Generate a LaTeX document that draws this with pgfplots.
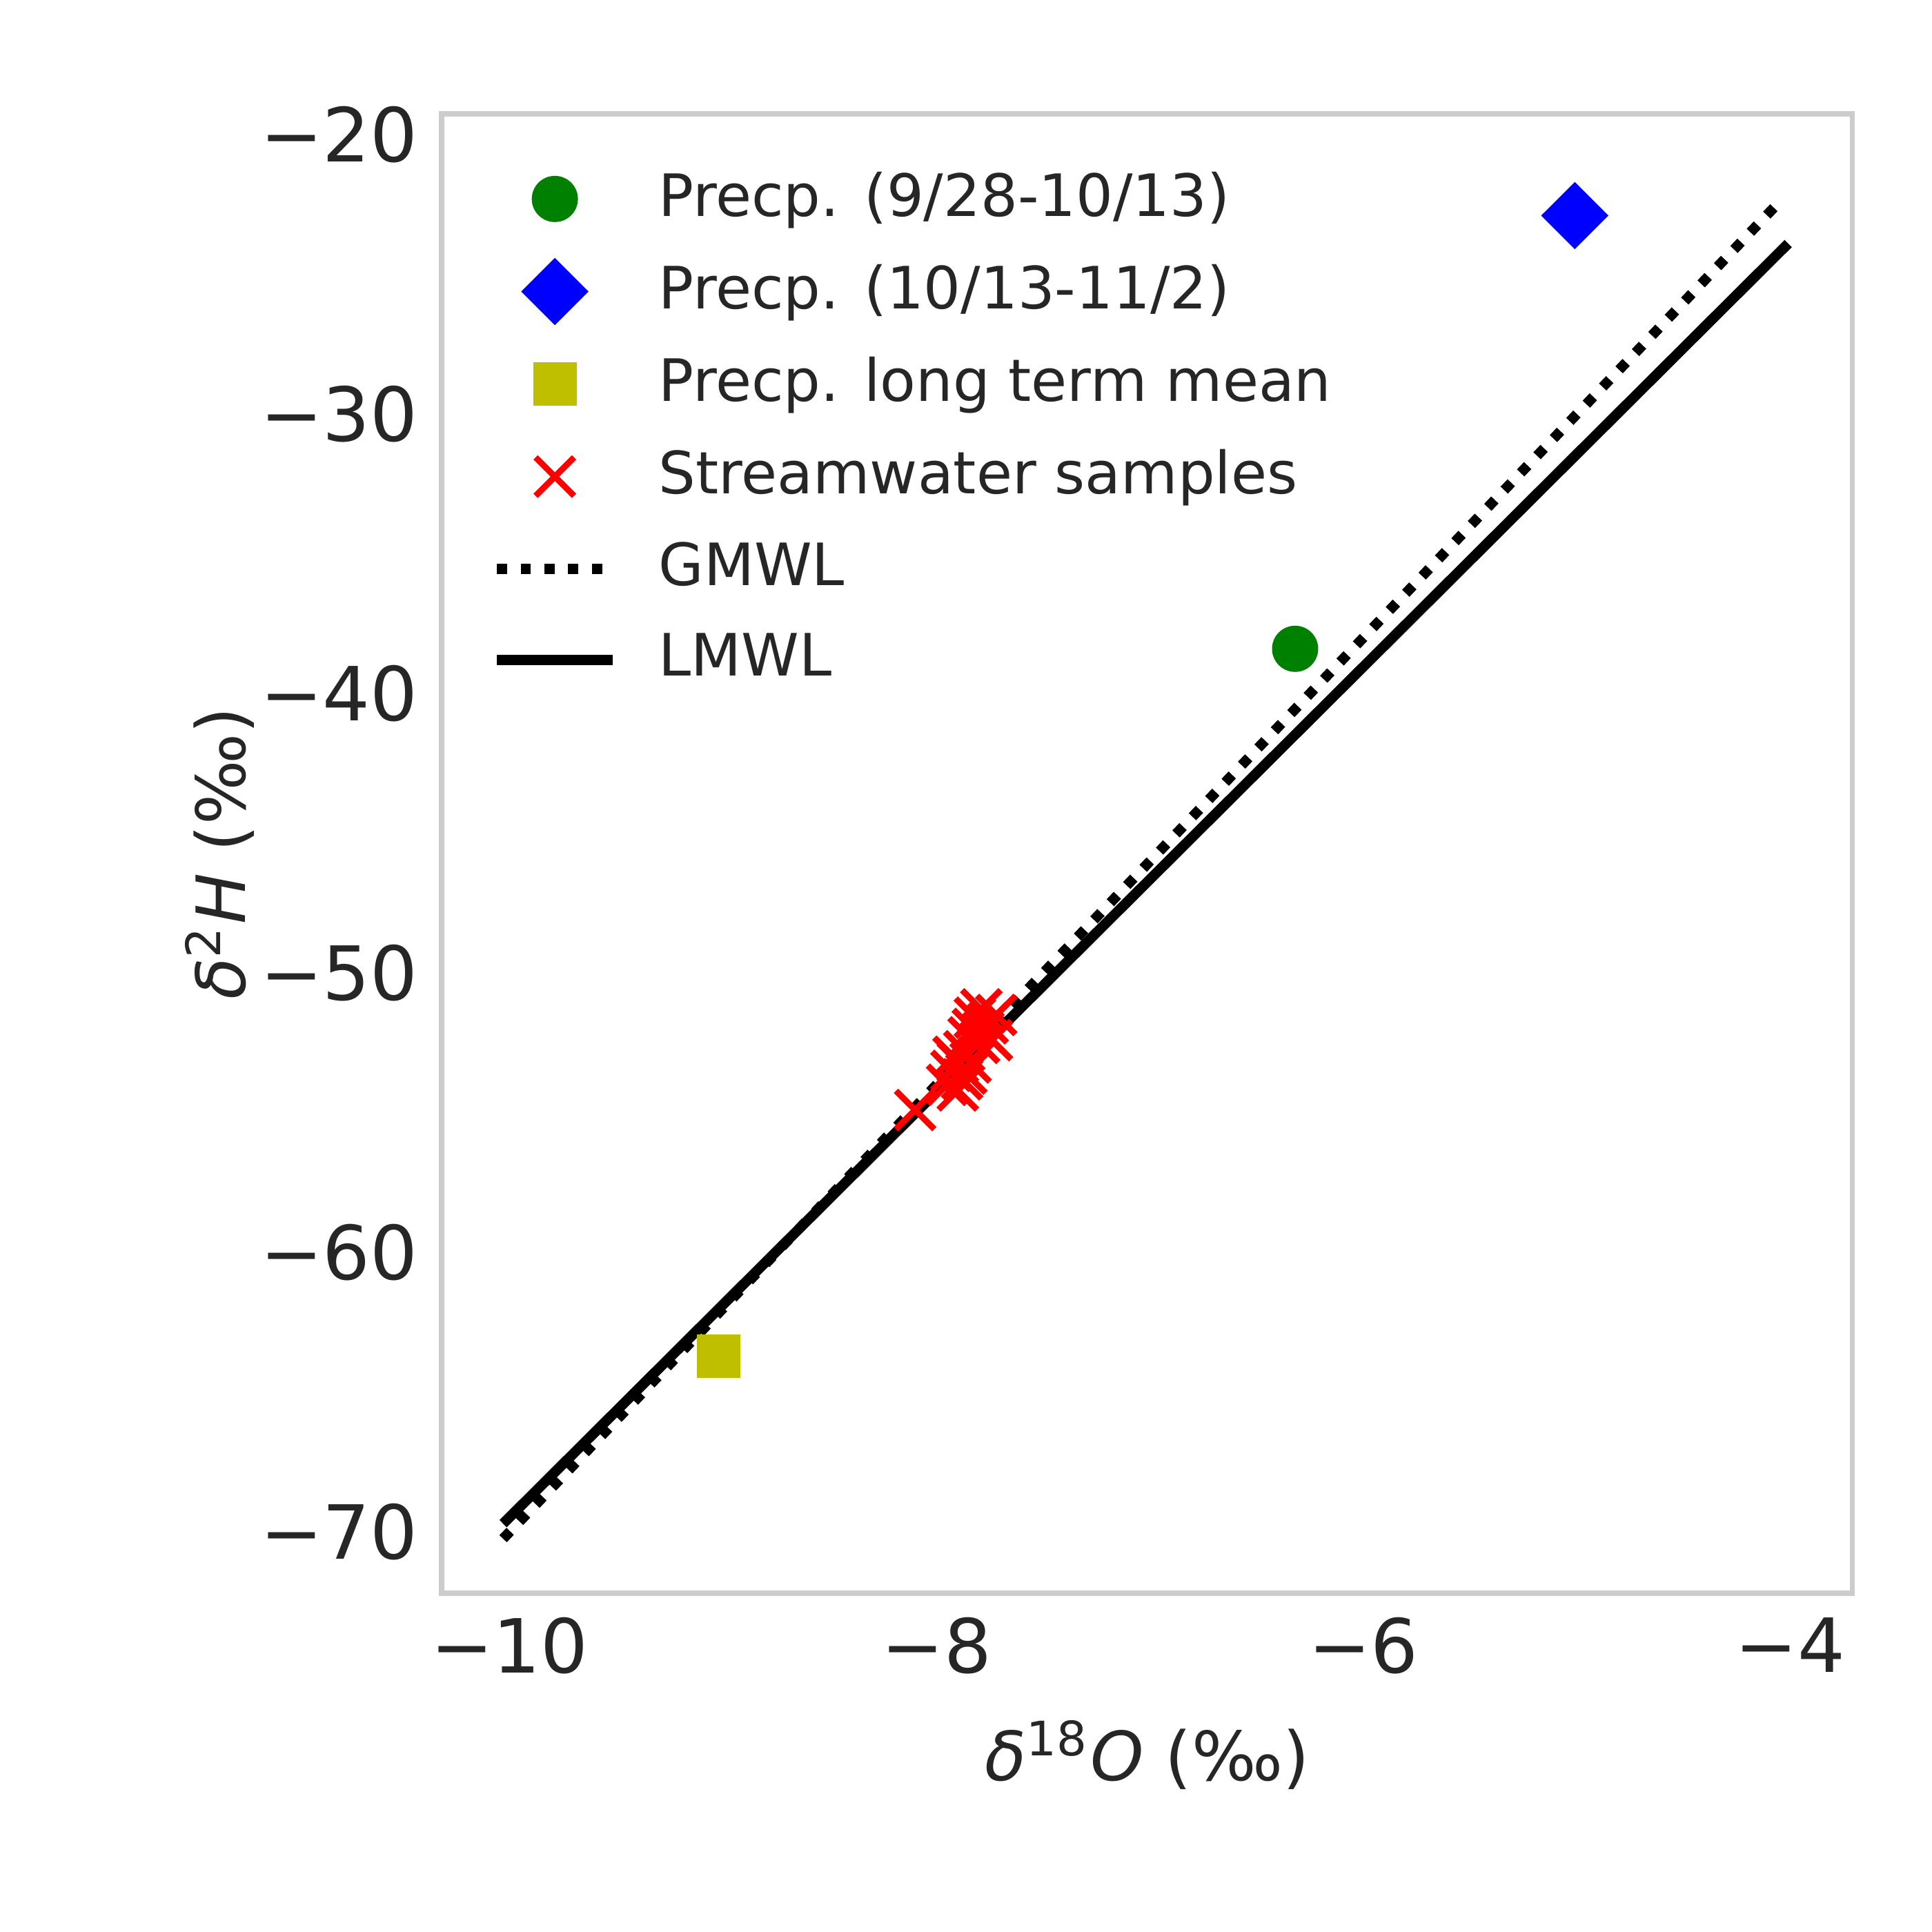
\documentclass[border=0pt]{standalone}
\usepackage{fontspec}
\setmainfont{DejaVu Sans}
\usepackage{pgfplots}
\pgfplotsset{compat=1.18}
\begin{document}
\begin{tikzpicture}
\path (-2.287,-1.752) rectangle (7.713,8.248);
\begin{axis}[at={(0,0)},anchor=south west,scale only axis,
 width=7.30cm,height=7.66cm,
 xmin=-10.317,xmax=-3.71,ymin=-72.2,ymax=-19.25,
 axis line style={draw=black!20,line width=0.8pt},
 tick style={draw=none},
 xtick={-10,-8,-6,-4},xticklabels={−10,−8,−6,−4},
 ytick={-70,-60,-50,-40,-30,-20},yticklabels={−70,−60,−50,−40,−30,−20},
 ticklabel style={font=\fontsize{11}{13}\selectfont,text=black!85},
 xlabel={\textit{δ}\textsuperscript{18}\textit{O} (‰)},
 ylabel={\textit{δ}\textsuperscript{2}\textit{H} (‰)},
 label style={font=\fontsize{10}{12}\selectfont,text=black!85},
 ylabel style={yshift=-6pt},
 legend style={draw=none,fill=none,at={(0.02,0.98)},anchor=north west,
   font=\fontsize{8.6}{10}\selectfont,text=black!85,row sep=1.6pt,
   nodes={inner xsep=6pt}},
 legend cell align=left,
]
\addplot[only marks,mark=*,color=green!50!black,mark size=3.2pt] coordinates {(-6.32,-38.4)};
\addlegendentry{Precp. (9/28-10/13)}
\addplot[only marks,mark=square*,mark options={rotate=45},color=blue,mark size=3.3pt] coordinates {(-5.01,-22.9)};
\addlegendentry{Precp. (10/13-11/2)}
\addplot[only marks,mark=square*,color={rgb,255:red,191;green,191;blue,0},mark size=3pt] coordinates {(-9.02,-63.7)};
\addlegendentry{Precp. long term mean}
\addplot[only marks,mark=x,color=red,mark size=4pt,line width=0.9pt] coordinates {
(-8.1,-54.9)(-7.95,-54.0)(-7.93,-53.5)(-7.92,-53.0)(-7.9,-54.2)(-7.88,-53.8)
(-7.87,-52.8)(-7.85,-52.3)(-7.84,-53.2)(-7.83,-52.0)(-7.82,-51.6)(-7.8,-52.5)
(-7.79,-51.3)(-7.78,-52.1)(-7.76,-51.8)(-7.74,-52.4)(-7.72,-51.5)(-7.9,-53.2)(-7.86,-53.6)};
\addlegendentry{Streamwater samples}
\addplot[black,dotted,line width=1.5pt] coordinates {(-10.03,-70.24)(-4.075,-22.6)};
\addlegendentry{GMWL}
\addplot[black,line width=1.5pt] coordinates {(-10.03,-69.7)(-4.01,-23.9)};
\addlegendentry{LMWL}
\end{axis}
\end{tikzpicture}
\end{document}
